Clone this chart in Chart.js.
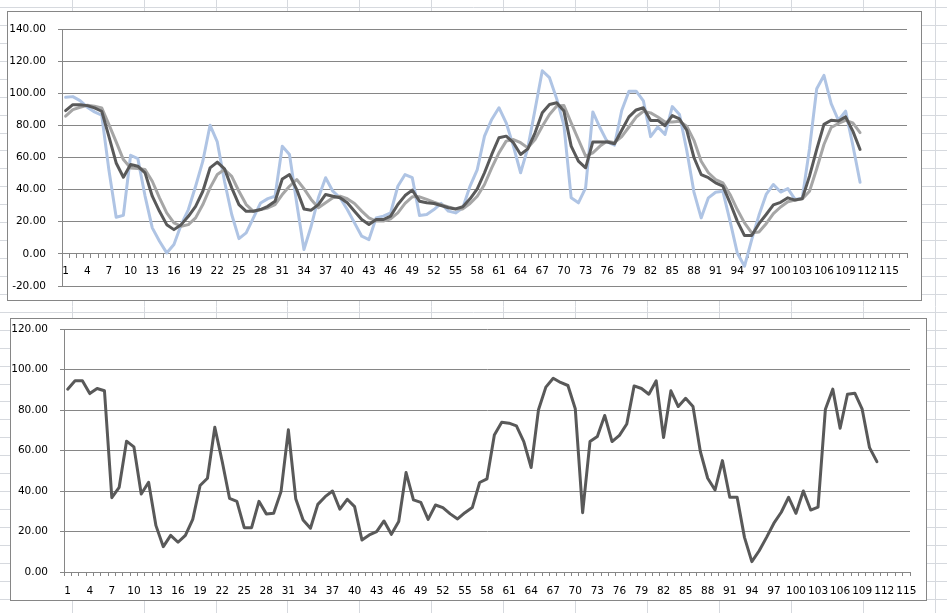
<!DOCTYPE html>
<html><head><meta charset="utf-8">
<script src="https://cdn.jsdelivr.net/npm/chart.js@4"></script>
<style>
html,body{margin:0;padding:0;background:#fff;width:947px;height:613px;overflow:hidden;}
#sheet{position:absolute;left:0;top:0;}
.box{position:absolute;box-sizing:border-box;border:1px solid #868686;background:#fff;}
.box canvas{position:absolute;left:0;top:0;}
</style></head><body>
<canvas id="sheet" width="947" height="613"></canvas>
<div class="box" style="left:7px;top:11px;width:915px;height:290px;"><canvas id="c1" width="913" height="288"></canvas></div>
<div class="box" style="left:10px;top:318px;width:917px;height:283px;"><canvas id="c2" width="915" height="281"></canvas></div>
<script>
// ---- data ----
const topCategories = Array.from({length:117}, (_, i) => String(i + 1));
const bottomCategories = Array.from({length:115}, (_, i) => String(i + 1));
const topYTicks = [-20, 0, 20, 40, 60, 80, 100, 120, 140];
const bottomYTicks = [0, 20, 40, 60, 80, 100, 120];

const darkSeries = [89.2,92.9,92.9,92.3,90.9,88.8,73,56.6,47.7,55.6,
54.6,50.4,35.9,26.5,18.2,15.1,18.2,23.4,29.6,39.0,
53.5,57.1,52.9,41.1,30.7,26.5,26.5,27.6,29.6,32.8,
46.6,49.4,40,28,27.2,30.7,37.0,35.9,34.9,31.8,
26.6,21.4,18.3,21.4,21.4,23.5,30.7,36.3,39.7,32.8,
31.8,31.4,30.1,28.7,28.0,29.3,34.3,40.5,50.5,61.9,
72.3,73.3,69.2,61.9,65.4,75.4,87.8,93.0,94.1,88.9,
67.1,57.7,53.6,69.7,69.7,69.7,68.6,77,85.3,89.6,
91.0,83.0,83.1,79.8,86.1,84.0,77.0,60,49.4,47.4,
44.2,42.2,31.8,20.4,11.4,11.4,18.8,24.5,30.5,32.1,
34.9,33.5,34.4,48.4,65,80.6,83.2,82.7,85.3,76.4,
65.0];
const graySeries = [85.7,89.8,91.3,92.5,91.9,90.9,80.5,69.7,58.7,53.5,
53.1,52.5,45.2,34.9,25.5,19.3,17.2,18.2,22.4,30.7,
41.1,49.4,52.5,48.3,39.0,30.7,26.5,27.6,28.6,30.7,
36.9,42.1,46.3,40.6,33.9,28.7,31.8,34.9,35.9,34.3,
31.4,26.6,22.4,20.4,20.4,21.8,25.5,31.4,35.5,35.5,
33.9,32.2,30.7,29.3,28.0,28.0,31.4,35.9,43.2,53.6,
62.9,70.2,71.2,69.2,66.0,71.2,79.5,86.8,92.0,92.4,
81.6,71.2,60.9,62.9,67.1,70.2,69.2,73,79,85.2,
88.8,87.8,85.2,82.1,82.1,82.6,79.5,70.7,57.7,50.5,
46.3,44.2,37.0,27.6,19.3,13.1,13.6,18.8,25.0,29.2,
32.5,33.5,34.2,39.0,53,68.1,78.7,81.2,83.1,81.6,
75.5];
const blueSeries = [97.5,97.9,95.4,91.3,88.4,86.3,52,22.8,24.0,61.4,
59.3,36,16.2,7.9,0.6,5.8,18.2,27.6,42.1,57.7,
80.1,69.7,45.2,24.5,9.5,13.1,22.4,31.7,34.4,35.9,
67.0,61.9,31.5,2.7,17.2,34.9,47.4,39.0,34.9,27.6,
19.3,11.0,8.9,22.4,23.5,25.5,42.1,49.4,47.4,23.9,
24.5,27.6,31.4,26.6,25.5,28.7,42.2,52.5,73.3,83.7,
91.0,81.6,67.1,50.5,66.0,89.9,114,109.7,96.5,80,
34.9,31.8,41.1,88.4,78.5,69.7,67.7,89.3,101.3,101.3,
95.3,73,79,74.4,91.7,86.8,64.5,38.5,22.4,34.9,
38.4,39.0,20.4,0.6,-7.7,8.9,24,37.0,43.2,38.5,
40.6,33.9,34.6,65.5,102.8,111.1,93.5,83.2,88.9,67.6,
44.6];
const bottomSeries = [90.3,94.4,94.4,88.1,90.6,89.5,36.7,41.8,64.6,61.8,
38.5,44.3,22.9,12.5,18.1,14.7,18.1,26.0,42.7,46.3,
71.5,54.7,36.4,34.9,21.9,21.9,34.9,28.7,29.0,39.7,
70.2,36.2,25.7,21.6,33.4,37.2,40.0,31.0,35.9,32.3,
15.8,18.3,19.9,25.2,18.6,24.9,49.1,35.6,34.4,26.0,
33.1,31.8,28.7,26.2,29.3,31.8,44.2,46.0,67.7,74.0,
73.5,72.2,64.4,51.6,80.1,91.3,95.7,93.6,92.1,80.6,
29.3,64.4,66.9,77.3,64.4,67.5,73.1,91.9,90.6,87.8,
94.4,66.4,89.5,81.7,85.8,81.7,59.5,46.3,40.5,55.0,
36.9,36.9,17.1,5.1,10.5,17.1,24.1,29.5,36.9,29.0,
40.0,30.6,32.0,80.4,90.3,71.0,87.8,88.3,80.4,61.4,
54.5];

// ---- spreadsheet background ----
(function(){
  const s = document.getElementById('sheet').getContext('2d');
  s.strokeStyle = '#d6d9de'; s.lineWidth = 1;
  s.beginPath();
  for (let k = 0; k < 14; k++) { const x = Math.round(71.7 + 71.92 * k) + 0.5; s.moveTo(x, 0); s.lineTo(x, 613); }
  for (let k = 0; k < 35; k++) { const y = Math.round(7 + 17.93 * k) + 0.5; s.moveTo(0, y); s.lineTo(947, y); }
  s.stroke();
})();

Chart.defaults.font.family = "'DejaVu Sans', Verdana, sans-serif";
Chart.defaults.font.size = 10.5;
Chart.defaults.color = '#000';

const GRID = '#868686';
function lineDs(data, color) {
  return { data, borderColor: color, backgroundColor: color, borderWidth: 3, pointRadius: 0,
           tension: 0, fill: false, borderJoinStyle: 'round', borderCapStyle: 'round', spanGaps: false };
}
function xAxis(extra, pad) {
  return Object.assign({
    type: 'category', offset: true,
    grid: { display: true, drawOnChartArea: false, drawTicks: true, tickLength: 4, offset: true, color: GRID },
    border: { display: true, color: GRID },
    ticks: { autoSkip: false, maxRotation: 0, minRotation: 0, padding: pad,
      callback: function(v, i) { return i % 3 === 0 ? this.getLabelForValue(v) : ''; } }
  }, extra);
}
function yAxis(ticks, width) {
  return {
    min: ticks[0], max: ticks[ticks.length - 1],
    afterBuildTicks: (s) => { s.ticks = ticks.map(v => ({ value: v })); },
    ticks: { padding: 12, callback: v => Number(v).toFixed(2) },
    grid: { color: GRID, tickLength: 4, drawTicks: true },
    border: { display: true, color: GRID },
    afterFit: (s) => { s.width = width; s.paddingTop = 0; s.paddingBottom = 0; }
  };
}

new Chart(document.getElementById('c1'), {
  type: 'line',
  data: { labels: topCategories, datasets: [lineDs(darkSeries, '#595959'), lineDs(graySeries, '#a6a6a6'), lineDs(blueSeries, '#afc4e4')] },
  options: {
    responsive: false, animation: false, devicePixelRatio: 1,
    layout: { padding: { left: 0, right: 14, top: 17, bottom: 14 } },
    plugins: { legend: { display: false }, tooltip: { enabled: false } },
    scales: {
      x: xAxis({ position: { y: 0 } }, 7),
      y: yAxis(topYTicks, 54)
    }
  }
});

new Chart(document.getElementById('c2'), {
  type: 'line',
  data: { labels: bottomCategories, datasets: [lineDs(bottomSeries, '#595959')] },
  options: {
    responsive: false, animation: false, devicePixelRatio: 1,
    layout: { padding: { left: 0, right: 16, top: 10, bottom: 0 } },
    plugins: { legend: { display: false }, tooltip: { enabled: false } },
    scales: {
      x: xAxis({ position: 'bottom', afterFit: (s) => { s.height = 28; } }, 9),
      y: yAxis(bottomYTicks, 53)
    }
  }
});
</script>
</body></html>
